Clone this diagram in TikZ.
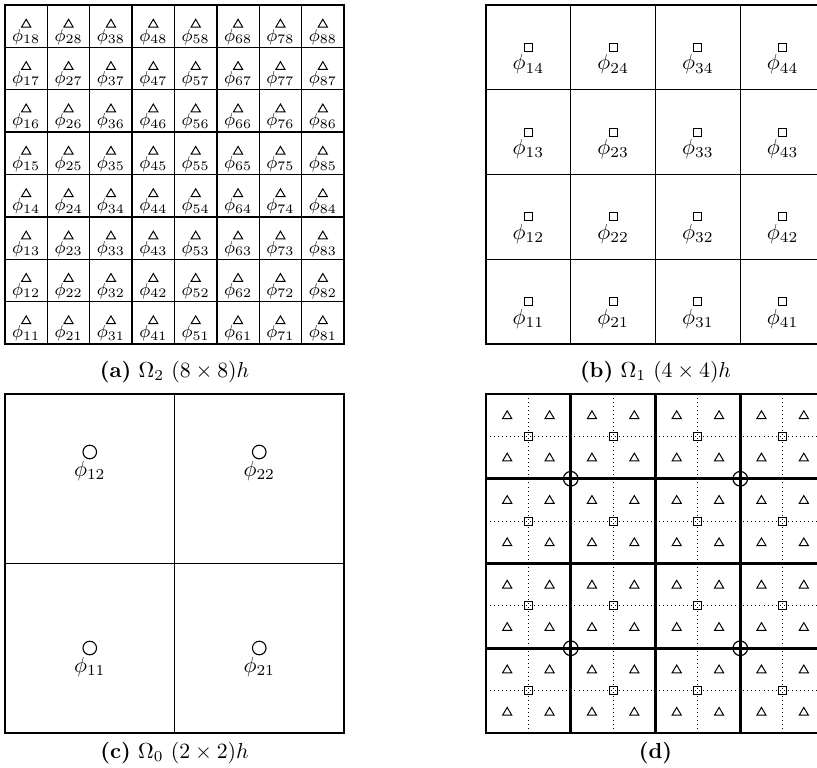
\documentclass[tikz,border=0pt]{standalone}
\begin{document}
\begin{tikzpicture}[x=0.46pt,y=-0.46pt,
  trimark/.pic={\draw[line width=0.45pt] (-4.6,3.4)--(4.6,3.4)--(0,-4.4)--cycle;},
  sqmark/.pic={\draw[line width=0.45pt] (-4,-4) rectangle (4,4);},
  circmark/.pic={\draw[line width=0.5pt] (0,0) circle (6.8);},
  bigcirc/.pic={\draw[line width=0.55pt] (0,0) circle (7.3);},
  gridline/.style={line width=0.6pt},
  thickline/.style={line width=1.3pt},
  dotline/.style={line width=0.45pt,dash pattern=on 0.45pt off 1.4pt},
  laba/.style={inner sep=0pt,anchor=north,font=\footnotesize},
  labb/.style={inner sep=0pt,anchor=north,font=\normalsize},
  capt/.style={inner sep=0pt,font=\normalsize}]
\clip (0,0) rectangle (817,767);
% ---------------- (a) ----------------
\foreach \k in {1,...,7}{
  \draw[gridline] ({5+\k*42.375},5) -- ({5+\k*42.375},344);
  \draw[gridline] (5,{5+\k*42.375}) -- (344,{5+\k*42.375});
}
\draw[gridline] (5,5) rectangle (344,344);
\foreach \i in {1,...,8}{
  \foreach \j in {1,...,8}{
    \pgfmathsetmacro\cx{5+(\i-0.5)*42.375}
    \pgfmathsetmacro\cy{344-(\j-0.5)*42.375}
    \pic at (\cx,\cy-2.5) {trimark};
    \node[laba] (a\i\j) at (\cx,\cy+2.5) {$\phi_{\i\j}$};
  }
}
\node[capt] (capa) at (174.5,372) {\textbf{(a)} $\Omega_2$ $(8\times 8)h$};
% ---------------- (b) ----------------
\foreach \k in {1,...,4}{
  \draw[gridline] ({486+\k*84.75},5) -- ({486+\k*84.75},344);
  \draw[gridline] (486,{5+\k*84.75}) -- (830,{5+\k*84.75});
}
\draw[gridline] (486,5) rectangle (825,344);
\foreach \i in {1,...,4}{
  \foreach \j in {1,...,4}{
    \pgfmathsetmacro\cx{486+(\i-0.5)*84.75}
    \pgfmathsetmacro\cy{344-(\j-0.5)*84.75}
    \pic at (\cx,\cy) {sqmark};
    \node[labb] (b\i\j) at (\cx,\cy+7) {$\phi_{\i\j}$};
  }
}
\node[capt] (capb) at (655.5,372) {\textbf{(b)} $\Omega_1$ $(4\times 4)h$};
% ---------------- (c) ----------------
\draw[gridline] (5,394) rectangle (344,733);
\draw[gridline] (174.5,394) -- (174.5,733);
\draw[gridline] (5,563.5) -- (344,563.5);
\foreach \i in {1,2}{
  \pgfmathsetmacro\cx{5+(\i-0.5)*169.5}
  \pic at (\cx,452) {circmark};
  \node[labb] (c\i2) at (\cx,461) {$\phi_{\i2}$};
  \pic at (\cx,648) {circmark};
  \node[labb] (c\i1) at (\cx,657) {$\phi_{\i1}$};
}
\node[capt] (capc) at (174.5,753) {\textbf{(c)} $\Omega_0$ $(2\times 2)h$};
% ---------------- (d) ----------------
\foreach \k in {0,...,3}{
  \draw[dotline] ({486+(2*\k+1)*42.375},394) -- ({486+(2*\k+1)*42.375},733);
  \draw[dotline] (486,{394+(2*\k+1)*42.375}) -- (830,{394+(2*\k+1)*42.375});
}
\foreach \k in {1,...,3}{
  \draw[thickline] ({486+\k*84.75},394) -- ({486+\k*84.75},733);
  \draw[thickline] (486,{394+\k*84.75}) -- (830,{394+\k*84.75});
}
\draw[thickline] (486,394) rectangle (825,733);
\foreach \i in {1,...,8}{
  \foreach \j in {1,...,8}{
    \pic at ({486+(\i-0.5)*42.375},{394+(\j-0.5)*42.375}) {trimark};
  }
}
\foreach \i in {1,...,4}{
  \foreach \j in {1,...,4}{
    \pic at ({486+(\i-0.5)*84.75},{394+(\j-0.5)*84.75}) {sqmark};
  }
}
\foreach \i in {1,2}{
  \foreach \j in {1,2}{
    \pic at ({486+(2*\i-1)*84.75},{394+(2*\j-1)*84.75}) {bigcirc};
  }
}
\node[capt] (capd) at (655.5,753) {\textbf{(d)}};
\end{tikzpicture}
\end{document}
